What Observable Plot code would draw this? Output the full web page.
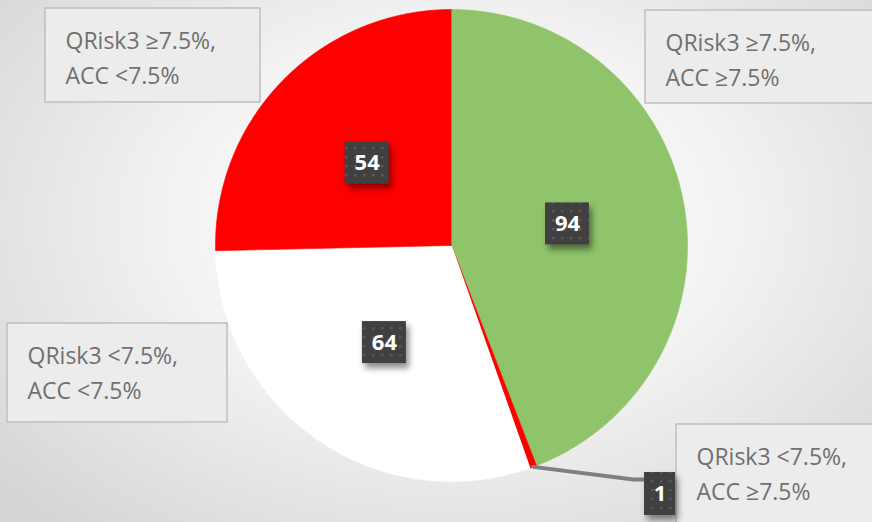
<!DOCTYPE html>
<html><head><meta charset="utf-8">
<script src="https://cdn.jsdelivr.net/npm/d3@7"></script>
<script src="https://cdn.jsdelivr.net/npm/@observablehq/plot@0.6"></script>
<style>
html,body{margin:0;padding:0;}
body{width:872px;height:522px;overflow:hidden;background:radial-gradient(ellipse 70% 80% at 52% 42%, #ffffff 0%, #f3f3f3 45%, #d4d4d4 100%);}
#chart svg{display:block;}
</style></head><body><div id="chart"></div>
<script>
// ---- data ----
const categories = ["QRisk3 ≥7.5%, ACC ≥7.5%", "QRisk3 <7.5%, ACC ≥7.5%", "QRisk3 <7.5%, ACC <7.5%", "QRisk3 ≥7.5%, ACC <7.5%"];
const values = [94, 1, 64, 54];
const sliceColors = ["#8fc46a", "#ff0000", "#ffffff", "#ff0000"];

// ---- layout (pixels) ----
const W = 872, H = 522, CX = 451, CY = 245, R = 236;
const toX = px => (px - CX) / R;
const toY = py => (CY - py) / R;
// callout boxes for each category (same order as categories)
const calloutBoxes = [
  {x1: 645, y1: 10, x2: 890, y2: 103},
  {x1: 676, y1: 424, x2: 890, y2: 540},
  {x1: 7, y1: 323, x2: 227, y2: 422},
  {x1: 45, y1: 8, x2: 260, y2: 102}
];
const labelRadius = 0.5;           // inside labels at half radius
const outsideLabel = {1: {cx: 659.5, cy: 493.5, w: 31, h: 43, elbowX: 633, elbowY: 479}};
const boxW = 44, boxH = 42;

// ---- pie geometry ----
const total = d3.sum(values);
let acc = 0;
const slices = values.map((v, i) => {
  const a0 = acc / total * 2 * Math.PI; acc += v;
  const a1 = acc / total * 2 * Math.PI;
  return {i, v, a0, a1, mid: (a0 + a1) / 2, color: sliceColors[i]};
});
const slicePts = [];
for (const s of slices) {
  slicePts.push({key: s.i, x: 0, y: 0, color: s.color});
  const n = Math.max(2, Math.ceil((s.a1 - s.a0) / (Math.PI / 720)));
  for (let k = 0; k <= n; k++) {
    const a = s.a0 + (s.a1 - s.a0) * k / n;
    slicePts.push({key: s.i, x: Math.sin(a), y: Math.cos(a), color: s.color});
  }
}

// value labels
const labels = slices.map(s => {
  const o = outsideLabel[s.i];
  if (o) {
    return {text: String(s.v), x: toX(o.cx), y: toY(o.cy),
      x1: toX(o.cx - o.w / 2), x2: toX(o.cx + o.w / 2), y1: toY(o.cy - o.h / 2), y2: toY(o.cy + o.h / 2)};
  }
  const x = labelRadius * Math.sin(s.mid), y = labelRadius * Math.cos(s.mid);
  return {text: String(s.v), x, y,
    x1: x - boxW / 2 / R, x2: x + boxW / 2 / R, y1: y - boxH / 2 / R, y2: y + boxH / 2 / R};
});

// leader line for outside label
const leader = [];
for (const s of slices) {
  const o = outsideLabel[s.i];
  if (!o) continue;
  leader.push({x: Math.sin(s.mid), y: Math.cos(s.mid)});
  leader.push({x: toX(o.elbowX), y: toY(o.elbowY)});
  leader.push({x: toX(o.cx - o.w / 2), y: toY(o.elbowY)});
}

const callouts = categories.map((c, i) => {
  const b = calloutBoxes[i];
  return {text: c.replace(", ", ",\n"), x1: toX(b.x1), x2: toX(b.x2), y1: toY(b.y1), y2: toY(b.y2),
    tx: toX(b.x1 + 20), ty: toY(Math.min((b.y1 + b.y2) / 2, b.y1 + 46.5))};
});

const plot = Plot.plot({
  width: W, height: H,
  marginLeft: CX - R, marginRight: W - (CX + R), marginTop: CY - R, marginBottom: H - (CY + R),
  x: {domain: [-1, 1], axis: null},
  y: {domain: [-1, 1], axis: null},
  color: {type: "identity"},
  style: "font-family: 'Open Sans', sans-serif; background: transparent; overflow: visible;",
  marks: [
    Plot.line(slicePts, {x: "x", y: "y", z: "key", fill: "color", stroke: "color", strokeWidth: 0.6, curve: "linear"}),
    Plot.line(leader, {x: "x", y: "y", stroke: "#7f7f7f", strokeWidth: 4, curve: "linear"}),
    Plot.rect(callouts, {x1: "x1", x2: "x2", y1: "y1", y2: "y2", fill: "#ececec", stroke: "#bfbfbf", strokeWidth: 1.5}),
    Plot.text(callouts, {x: "tx", y: "ty", text: "text", textAnchor: "start", lineAnchor: "middle", fontSize: 23, lineHeight: 1.56, fill: "#707070"}),
    Plot.rect(labels, {x1: "x1", x2: "x2", y1: "y1", y2: "y2", fill: "#404040"}),
    Plot.text(labels, {x: "x", y: "y", text: "text", fill: "white", fontSize: 22, fontWeight: "bold"})
  ]
});
document.getElementById("chart").appendChild(plot);

// dotted texture + shadow on value boxes
const svg = d3.select(plot);
const defs = svg.insert("defs", ":first-child");
const pat = defs.append("pattern").attr("id", "dots").attr("width", 9).attr("height", 9).attr("patternUnits", "userSpaceOnUse");
pat.append("rect").attr("width", 9).attr("height", 9).attr("fill", "#404040");
pat.append("rect").attr("x", 3).attr("y", 3).attr("width", 2.5).attr("height", 2.5).attr("fill", "#585858");
const rectGroups = svg.selectAll('g[aria-label="rect"]').nodes();
const valueBoxes = d3.select(rectGroups[rectGroups.length - 1]);
valueBoxes.style("filter", "drop-shadow(3px 5px 3px rgba(0,0,0,0.45))");
valueBoxes.selectAll("rect").attr("fill", "url(#dots)");
</script></body></html>
